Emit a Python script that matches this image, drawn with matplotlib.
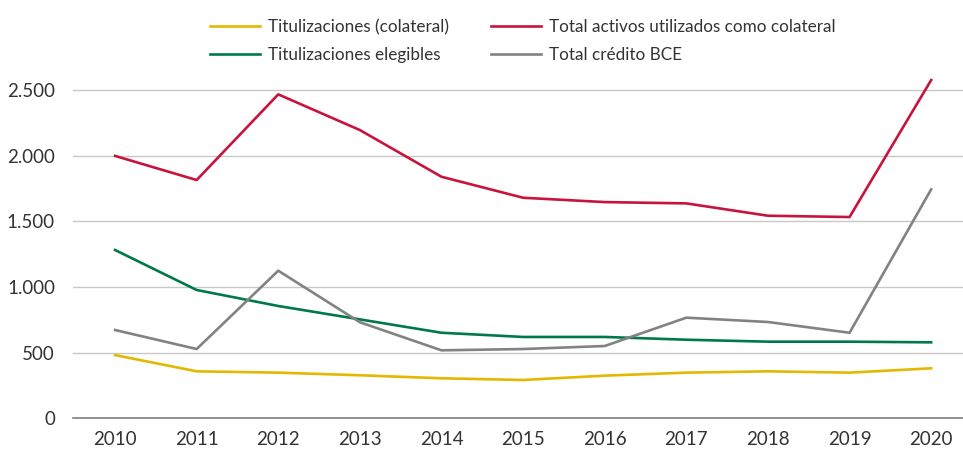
import matplotlib
matplotlib.use("Agg")
import matplotlib.pyplot as plt
from matplotlib.ticker import FuncFormatter

plt.rcParams['font.family'] = ['Lato', 'DejaVu Sans']

years = [2010, 2011, 2012, 2013, 2014, 2015, 2016, 2017, 2018, 2019, 2020]
titulizaciones_colateral = [482, 358, 348, 328, 305, 292, 325, 348, 358, 348, 381]
total_activos_colateral = [2000, 1816, 2469, 2197, 1841, 1681, 1648, 1638, 1544, 1534, 2578]
titulizaciones_elegibles = [1283, 978, 856, 754, 652, 620, 620, 599, 584, 584, 579]
total_credito_bce = [673, 528, 1125, 732, 518, 528, 551, 767, 734, 652, 1745]

labels = ["Titulizaciones (colateral)", "Titulizaciones elegibles",
          "Total activos utilizados como colateral", "Total crédito BCE"]
colors = ["#E2B900", "#00794A", "#C8143C", "#828282"]

fig = plt.figure(figsize=(9.63, 4.53), dpi=100)
ax = fig.add_axes([73/963, (453-418.3)/453, 1 - 73/963, (418.3-70)/453])

series = [titulizaciones_colateral, titulizaciones_elegibles, total_activos_colateral, total_credito_bce]
handles = []
for vals, c, lab in zip(series, colors, labels):
    h, = ax.plot(years, vals, color=c, lw=1.9, label=lab, clip_on=False, zorder=3)
    handles.append(h)

ax.set_xlim(2009.485, 2020.39)
ax.set_ylim(0, (418.3-70)/0.1312)
ax.set_yticks([0, 500, 1000, 1500, 2000, 2500])
ax.yaxis.set_major_formatter(FuncFormatter(lambda v, p: f"{int(v):,}".replace(",", ".")))
ax.set_xticks(years)
ax.grid(axis='y', color='#C8C8C8', lw=1)
ax.set_axisbelow(True)
for s in ['top', 'right', 'left']:
    ax.spines[s].set_visible(False)
ax.spines['bottom'].set_color('#7F7F7F')
ax.spines['bottom'].set_linewidth(1.2)
ax.tick_params(axis='both', length=0, labelsize=13.5, colors='#333333')
ax.tick_params(axis='y', pad=13)
ax.tick_params(axis='x', pad=9)

leg = fig.legend(handles=handles, labels=labels, ncol=2, loc='upper left',
                 bbox_to_anchor=(210/963, 1 - 19/453), frameon=False,
                 fontsize=12.3, handlelength=2.9, handletextpad=0.47,
                 columnspacing=2.5, labelspacing=0.68, borderaxespad=0,
                 borderpad=0)
for t in leg.get_texts():
    t.set_color('#333333')

fig.savefig("out.png", dpi=100)
